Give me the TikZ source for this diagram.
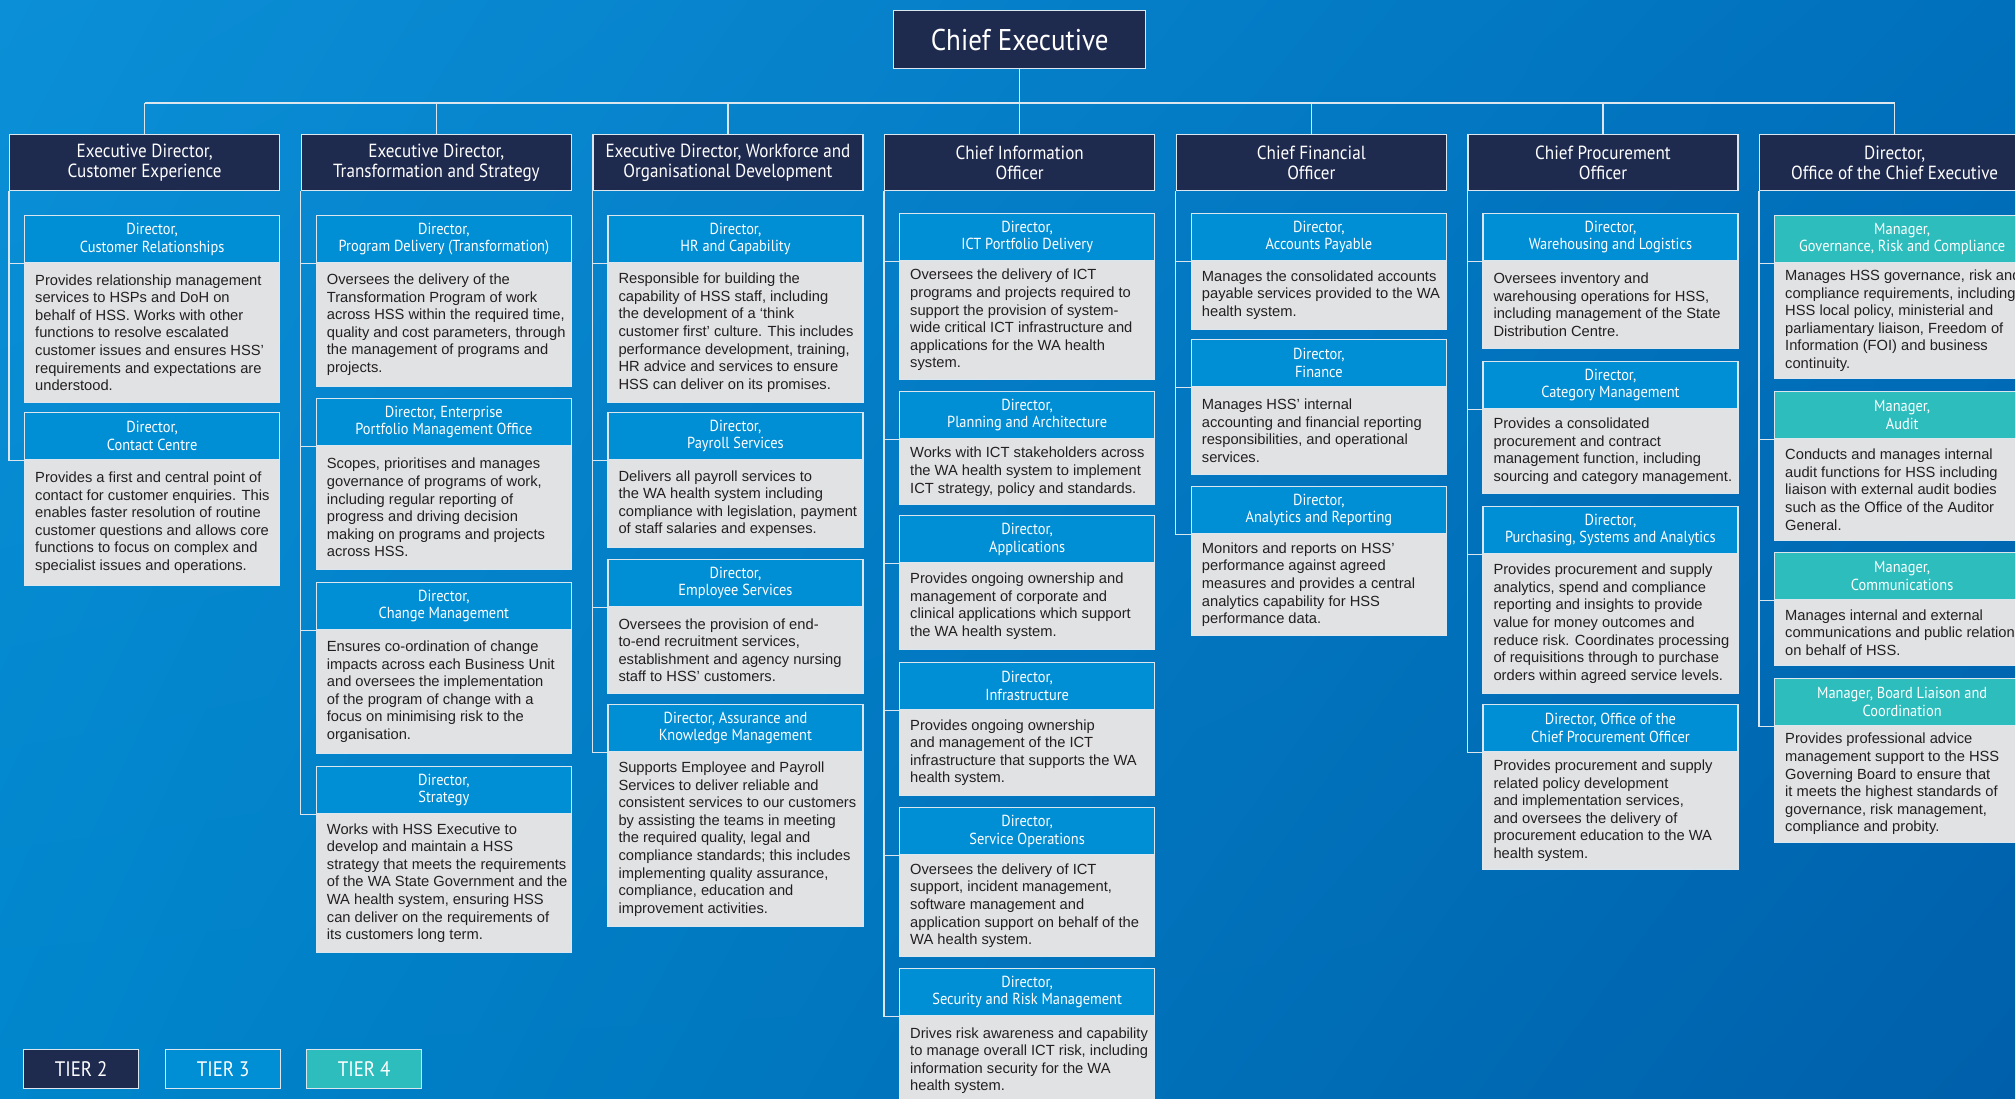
\documentclass[tikz,border=0pt]{standalone}
\usepackage{fontspec}
\usetikzlibrary{shadings}
\newfontfamily\bfont{Liberation Sans}
\newfontfamily\hfont[FakeStretch=0.9]{PT Sans}
\definecolor{cnavy}{HTML}{1F2A4F}
\definecolor{cblue}{HTML}{008ED5}
\definecolor{cteal}{HTML}{2DBDBD}
\definecolor{cbody}{HTML}{E1E2E4}
\definecolor{cedge}{HTML}{DCE6EF}
\definecolor{ctext}{HTML}{231F20}
\definecolor{bgA}{HTML}{0B8FD6}
\definecolor{bgB}{HTML}{0070BC}
\definecolor{bgC}{HTML}{0086CC}
\definecolor{bgD}{HTML}{005FAA}
\tikzset{
  edge/.style={draw=cedge, line width=1.3pt},
  tiertwo/.style={edge, fill=cnavy, text=white, anchor=north west, minimum width=270pt, minimum height=56pt, inner sep=0pt, align=center, font=\hfont\fontsize{19}{19.5}\selectfont},
  hdrblue/.style={edge, fill=cblue, text=white, anchor=north west, minimum width=255pt, minimum height=47pt, inner sep=0pt, align=center, font=\hfont\fontsize{16}{17.6}\selectfont},
  hdrteal/.style={hdrblue, fill=cteal},
  bodybox/.style={edge, fill=cbody, anchor=north west, minimum width=255pt, inner sep=0pt},
  bodytext/.style={anchor=west, inner sep=0pt, align=left, text=ctext, font=\bfont\fontsize{14.7}{17.6}\selectfont},
  conn/.style={draw=cedge, line width=1.3pt},
  legendbox/.style={edge, text=white, anchor=north west, minimum width=115pt, minimum height=39pt, inner sep=0pt, font=\hfont\fontsize{21}{22}\selectfont},
}
\newcommand\ochild[7]{%
  \node[#5] (#1h) at (#2,#3) {#6};
  \node[bodybox, minimum height={#4-#3-47}] (#1b) at (#2,#3+47) {};
  \node[bodytext] (#1t) at ([xshift=11pt]#1b.west) {#7};
}
\begin{document}
\begin{tikzpicture}[x=1pt,y=-1pt]
\useasboundingbox (0,0) rectangle (2015,1098);
\clip (0,0) rectangle (2015,1098);
\shade[upper left=bgA, upper right=bgB, lower left=bgC, lower right=bgD] (0,0) rectangle (2015,1098);

% Tier 1
\node[edge, fill=cnavy, text=white, anchor=north west, minimum width=252pt, minimum height=58pt, inner sep=0pt, font=\hfont\fontsize{30}{32}\selectfont] (ce) at (893,10) {Chief Executive};

% Tier 2
\node[tiertwo] (t1) at (9,134) {Executive Director,\\Customer Experience};
\node[tiertwo] (t2) at (300.7,134) {Executive Director,\\Transformation and Strategy};
\node[tiertwo] (t3) at (592.3,134) {Executive Director, Workforce and\\Organisational Development};
\node[tiertwo] (t4) at (884,134) {Chief Information\\Officer};
\node[tiertwo] (t5) at (1175.7,134) {Chief Financial\\Officer};
\node[tiertwo] (t6) at (1467.3,134) {Chief Procurement\\Officer};
\node[tiertwo] (t7) at (1759,134) {Director,\\Office of the Chief Executive};

% Column 1
\ochild{c1a}{24}{215}{402}{hdrblue}{Director,\\Customer Relationships}{Provides relationship management\\services to HSPs and DoH on\\behalf of HSS. Works with other\\functions to resolve escalated\\customer issues and ensures HSS’\\requirements and expectations are\\understood.}
\ochild{c1b}{24}{412}{585}{hdrblue}{Director,\\Contact Centre}{Provides a first and central point of\\contact for customer enquiries. This\\enables faster resolution of routine\\customer questions and allows core\\functions to focus on complex and\\specialist issues and operations.}

% Column 2
\ochild{c2a}{315.7}{215}{386}{hdrblue}{Director,\\Program Delivery (Transformation)}{Oversees the delivery of the\\Transformation Program of work\\across HSS within the required time,\\quality and cost parameters, through\\the management of programs and\\projects.}
\ochild{c2b}{315.7}{398}{569}{hdrblue}{Director, Enterprise\\Portfolio Management Office}{Scopes, prioritises and manages\\governance of programs of work,\\including regular reporting of\\progress and driving decision\\making on programs and projects\\across HSS.}
\ochild{c2c}{315.7}{582}{753}{hdrblue}{Director,\\Change Management}{Ensures co-ordination of change\\impacts across each Business Unit\\and oversees the implementation\\of the program of change with a\\focus on minimising risk to the\\organisation.}
\ochild{c2d}{315.7}{766}{952}{hdrblue}{Director,\\Strategy}{Works with HSS Executive to\\develop and maintain a HSS\\strategy that meets the requirements\\of the WA State Government and the\\WA health system, ensuring HSS\\can deliver on the requirements of\\its customers long term.}

% Column 3
\ochild{c3a}{607.3}{215}{402}{hdrblue}{Director,\\HR and Capability}{Responsible for building the\\capability of HSS staff, including\\the development of a ‘think\\customer first’ culture. This includes\\performance development, training,\\HR advice and services to ensure\\HSS can deliver on its promises.}
\ochild{c3b}{607.3}{412}{547}{hdrblue}{Director,\\Payroll Services}{Delivers all payroll services to\\the WA health system including\\compliance with legislation, payment\\of staff salaries and expenses.}
\ochild{c3c}{607.3}{559}{693}{hdrblue}{Director,\\Employee Services}{Oversees the provision of end-\\to-end recruitment services,\\establishment and agency nursing\\staff to HSS’ customers.}
\ochild{c3d}{607.3}{704}{926}{hdrblue}{Director, Assurance and\\Knowledge Management}{Supports Employee and Payroll\\Services to deliver reliable and\\consistent services to our customers\\by assisting the teams in meeting\\the required quality, legal and\\compliance standards; this includes\\implementing quality assurance,\\compliance, education and\\improvement activities.}

% Column 4
\ochild{c4a}{899}{213}{379}{hdrblue}{Director,\\ICT Portfolio Delivery}{Oversees the delivery of ICT\\programs and projects required to\\support the provision of system-\\wide critical ICT infrastructure and\\applications for the WA health\\system.}
\ochild{c4b}{899}{391}{504}{hdrblue}{Director,\\Planning and Architecture}{Works with ICT stakeholders across\\the WA health system to implement\\ICT strategy, policy and standards.}
\ochild{c4c}{899}{515}{649}{hdrblue}{Director,\\Applications}{Provides ongoing ownership and\\management of corporate and\\clinical applications which support\\the WA health system.}
\ochild{c4d}{899}{662}{795}{hdrblue}{Director,\\Infrastructure}{Provides ongoing ownership\\and management of the ICT\\infrastructure that supports the WA\\health system.}
\ochild{c4e}{899}{807}{956}{hdrblue}{Director,\\Service Operations}{Oversees the delivery of ICT\\support, incident management,\\software management and\\application support on behalf of the\\WA health system.}
\ochild{c4f}{899}{968}{1105}{hdrblue}{Director,\\Security and Risk Management}{Drives risk awareness and capability\\to manage overall ICT risk, including\\information security for the WA\\health system.}

% Column 5
\ochild{c5a}{1190.7}{213}{329}{hdrblue}{Director,\\Accounts Payable}{Manages the consolidated accounts\\payable services provided to the WA\\health system.}
\ochild{c5b}{1190.7}{339}{474}{hdrblue}{Director,\\Finance}{Manages HSS’ internal\\accounting and financial reporting\\responsibilities, and operational\\services.}
\ochild{c5c}{1190.7}{486}{635}{hdrblue}{Director,\\Analytics and Reporting}{Monitors and reports on HSS’\\performance against agreed\\measures and provides a central\\analytics capability for HSS\\performance data.}

% Column 6
\ochild{c6a}{1482.3}{213}{348}{hdrblue}{Director,\\Warehousing and Logistics}{Oversees inventory and\\warehousing operations for HSS,\\including management of the State\\Distribution Centre.}
\ochild{c6b}{1482.3}{361}{493}{hdrblue}{Director,\\Category Management}{Provides a consolidated\\procurement and contract\\management function, including\\sourcing and category management.}
\ochild{c6c}{1482.3}{506}{693}{hdrblue}{Director,\\Purchasing, Systems and Analytics}{Provides procurement and supply\\analytics, spend and compliance\\reporting and insights to provide\\value for money outcomes and\\reduce risk. Coordinates processing\\of requisitions through to purchase\\orders within agreed service levels.}
\ochild{c6d}{1482.3}{704}{869}{hdrblue}{Director, Office of the\\Chief Procurement Officer}{Provides procurement and supply\\related policy development\\and implementation services,\\and oversees the delivery of\\procurement education to the WA\\health system.}

% Column 7
\ochild{c7a}{1774}{215}{378}{hdrteal}{Manager,\\Governance, Risk and Compliance}{Manages HSS governance, risk and\\compliance requirements, including\\HSS local policy, ministerial and\\parliamentary liaison, Freedom of\\Information (FOI) and business\\continuity.}
\ochild{c7b}{1774}{391}{540}{hdrteal}{Manager,\\Audit}{Conducts and manages internal\\audit functions for HSS including\\liaison with external audit bodies\\such as the Office of the Auditor\\General.}
\ochild{c7c}{1774}{552}{665}{hdrteal}{Manager,\\Communications}{Manages internal and external\\communications and public relations\\on behalf of HSS.}
\ochild{c7d}{1774}{678}{842}{hdrteal}{Manager, Board Liaison and\\Coordination}{Provides professional advice\\management support to the HSS\\Governing Board to ensure that\\it meets the highest standards of\\governance, risk management,\\compliance and probity.}

% Tree connectors
\coordinate (bus) at (0,103);
\draw[conn] (ce.south) -- (ce.south |- bus);
\draw[conn] (t1.north |- bus) -- (t7.north |- bus);
\foreach \i in {1,...,7} \draw[conn] (t\i.north |- bus) -- (t\i.north);

% Column connectors
\draw[conn] (t1.south west) |- (c1bh.south west);
\draw[conn] (t1.south west |- c1ah.south west) -- (c1ah.south west);

\draw[conn] (t2.south west) |- (c2dh.south west);
\foreach \c in {c2a,c2b,c2c} \draw[conn] (t2.south west |- \c h.south west) -- (\c h.south west);

\draw[conn] (t3.south west) |- (c3dh.south west);
\foreach \c in {c3a,c3b,c3c} \draw[conn] (t3.south west |- \c h.south west) -- (\c h.south west);

\draw[conn] (t4.south west) |- (c4fh.south west);
\foreach \c in {c4a,c4b,c4c,c4d,c4e} \draw[conn] (t4.south west |- \c h.south west) -- (\c h.south west);

\draw[conn] (t5.south west) |- (c5ch.south west);
\foreach \c in {c5a,c5b} \draw[conn] (t5.south west |- \c h.south west) -- (\c h.south west);

\draw[conn] (t6.south west) |- (c6dh.south west);
\foreach \c in {c6a,c6b,c6c} \draw[conn] (t6.south west |- \c h.south west) -- (\c h.south west);

\draw[conn] (t7.south west) |- (c7dh.south west);
\foreach \c in {c7a,c7b,c7c} \draw[conn] (t7.south west |- \c h.south west) -- (\c h.south west);

% Legend
\node[legendbox, fill=cnavy] (lg2) at (23,1049) {TIER 2};
\node[legendbox, fill=cblue] (lg3) at (165,1049) {TIER 3};
\node[legendbox, fill=cteal] (lg4) at (306,1049) {TIER 4};
\end{tikzpicture}
\end{document}
